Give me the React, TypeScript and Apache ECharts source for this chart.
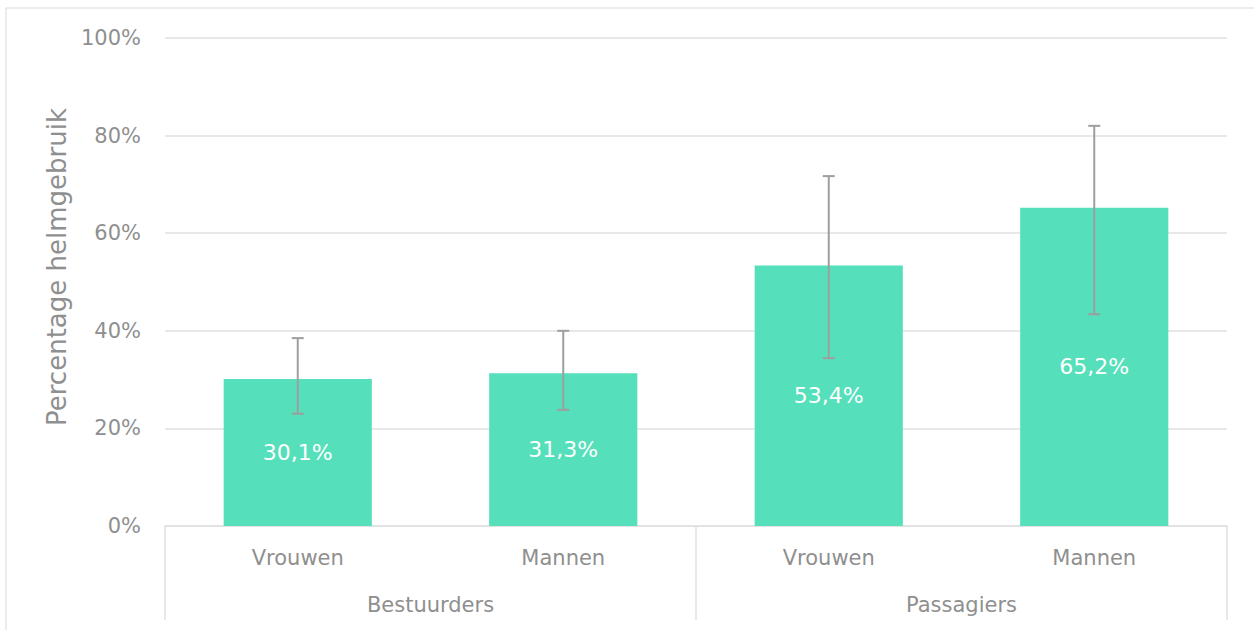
import React, { useEffect, useRef } from "react";
import * as echarts from "echarts";

const subCategories = ["Vrouwen", "Mannen", "Vrouwen", "Mannen"];
const groupCategories = ["Bestuurders", "Passagiers"];
const values = [30.1, 31.3, 53.4, 65.2];
const errorLow = [23.0, 23.8, 34.4, 43.4];
const errorHigh = [38.5, 40.0, 71.7, 82.0];
const yTicks = [0, 20, 40, 60, 80, 100];

const FONT = "DejaVu Sans, Verdana, sans-serif";
const GRAY = "#8f8f8f";
const LINE = "#e0e0e0";

export default function App() {
  const ref = useRef<HTMLDivElement>(null);
  useEffect(() => {
    if (!ref.current) return;
    const chart = echarts.init(ref.current, null, { renderer: "svg" });
    const errData = subCategories.map((_, i) => [i, errorLow[i], errorHigh[i]]);
    chart.setOption({
      animation: false,
      backgroundColor: "#ffffff",
      textStyle: { fontFamily: FONT },
      grid: { left: 165, right: 27, top: 38, bottom: 104, containLabel: false },
      graphic: [
        { type: "line", shape: { x1: 6, y1: 8, x2: 1254, y2: 8 }, style: { stroke: "#e6e6e6", lineWidth: 1.5 } },
        { type: "line", shape: { x1: 6, y1: 8, x2: 6, y2: 630 }, style: { stroke: "#e6e6e6", lineWidth: 1.5 } },
      ],
      xAxis: [
        {
          type: "category",
          position: "bottom",
          data: subCategories,
          axisLine: { show: false },
          axisTick: { show: false },
          axisLabel: { color: GRAY, fontSize: 21, fontFamily: FONT, margin: 21, interval: 0 },
        },
        {
          type: "category",
          position: "bottom",
          data: groupCategories,
          axisLine: { show: true, lineStyle: { color: LINE, width: 1.5 } },
          axisTick: { show: true, length: 94, alignWithLabel: false, interval: 0, lineStyle: { color: LINE, width: 1.5 } },
          axisLabel: { color: GRAY, fontSize: 21, fontFamily: FONT, margin: 68, interval: 0 },
        },
      ],
      yAxis: {
        type: "value",
        min: yTicks[0],
        max: yTicks[yTicks.length - 1],
        interval: 20,
        name: "Percentage helmgebruik",
        nameLocation: "middle",
        nameGap: 95,
        nameTextStyle: { color: GRAY, fontSize: 26, fontFamily: FONT, padding: [0, 0, 0, 30] },
        axisLine: { show: false },
        axisTick: { show: false },
        axisLabel: { color: GRAY, fontSize: 21, fontFamily: FONT, margin: 24, formatter: "{value}%" },
        splitLine: { lineStyle: { color: LINE, width: 1.5 } },
      },
      series: [
        {
          type: "bar",
          xAxisIndex: 0,
          data: values,
          barWidth: "55.8%",
          itemStyle: { color: "#55dfba" },
          label: {
            show: true,
            position: "inside",
            color: "#ffffff",
            fontSize: 22,
            fontFamily: FONT,
            formatter: (p: any) => String(p.value.toFixed(1)).replace(".", ",") + "%",
          },
        },
        {
          type: "custom",
          xAxisIndex: 0,
          data: errData,
          z: 5,
          renderItem: (params: any, api: any) => {
            const x = api.value(0);
            const lo = api.coord([x, api.value(1)]);
            const hi = api.coord([x, api.value(2)]);
            const hw = 6;
            const style = { stroke: "#9e9e9e", lineWidth: 2 };
            return {
              type: "group",
              children: [
                { type: "line", shape: { x1: lo[0], y1: lo[1], x2: hi[0], y2: hi[1] }, style },
                { type: "line", shape: { x1: hi[0] - hw, y1: hi[1], x2: hi[0] + hw, y2: hi[1] }, style },
                { type: "line", shape: { x1: lo[0] - hw, y1: lo[1], x2: lo[0] + hw, y2: lo[1] }, style },
              ],
            };
          },
        },
      ],
    });
    return () => chart.dispose();
  }, []);
  return (
    <div
      ref={ref}
      style={{ position: "fixed", left: 0, top: 0, width: 1254, height: 630 }}
    />
  );
}
